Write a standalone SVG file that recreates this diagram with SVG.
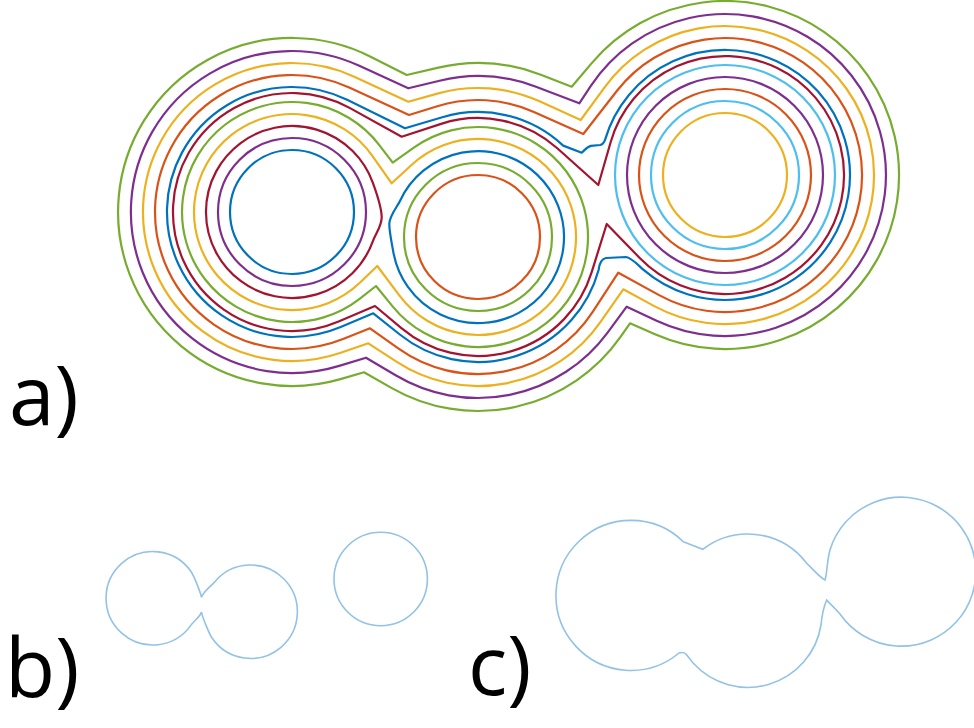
<svg xmlns="http://www.w3.org/2000/svg" width="974" height="728" viewBox="0 0 974 728">
<style>
.c{fill:none;stroke-width:2.2;stroke-linejoin:round}
.bl{stroke:#0072BD}.or{stroke:#D95319}.ye{stroke:#EDB120}.pu{stroke:#7E2F8E}
.gr{stroke:#77AC30}.lb{stroke:#4DBEEE}.dr{stroke:#A2142F}
.thin{fill:none;stroke:#92C2E6;stroke-width:1.6}
.lbl{font-family:"Open Sans","Noto Sans",sans-serif;font-size:82px;fill:#000}
</style>
<rect width="974" height="728" fill="#fff"/>
<g id="panel-a">
<g id="left-rings">
<circle class="c bl" cx="292" cy="212" r="62"/>
<circle class="c pu" cx="292" cy="212" r="74"/>
<path class="c dr" d="M372.8,241.4 A86,86 0 1 1 372.8,182.6 C375.5,190.1 381.5,206 381.7,217 C381.9,226 375.5,233.9 372.8,241.4 Z"/>
</g>
<g id="middle-rings">
<circle class="c or" cx="478" cy="237" r="62"/>
<circle class="c gr" cx="478" cy="237" r="74"/>
<path class="c bl" d="M400.1,200.7 A86,86 0 1 1 393.3,251.9 C392.3,246 389.3,232 389.3,224 C389.3,216 397.6,206.1 400.1,200.7 Z"/>
</g>
<g id="right-rings">
<circle class="c ye" cx="725" cy="175" r="62"/>
<circle class="c lb" cx="725" cy="175" r="74"/>
<circle class="c or" cx="725" cy="175" r="86"/>
<circle class="c pu" cx="725" cy="175" r="98"/>
<circle class="c lb" cx="725" cy="175" r="110"/>
</g>
<g id="merged-contours">
<path class="c ye" d="M391.7,183.3 L411.5,165 A98,98 0 1 1 399.5,295.6 L377.3,266 L359.8,282.8 A98,98 0 1 1 372,155.4 Z"/>
<path class="c gr" d="M392.7,162.7 L414.2,147.4 A110,110 0 1 1 392.8,306.6 L376,286 L359.6,298.8 A110,110 0 1 1 379.5,145.3 Z"/>
<path class="c dr" d="M401.7,136.7 L441.1,123.9 A119,119 0 0 1 557.3,148.3 L598.3,185 L610.7,142 A119,119 0 1 1 639.7,258 L606.7,224 L591.6,272.4 A119,119 0 0 1 401.7,328.3 L375,306 L338.6,321.5 A119,119 0 1 1 349.6,107.9 Z"/>
<path class="c bl" d="M405,128.3 L442.3,117.2 A125,125 0 0 1 563.2,145.6 L581.7,152.7 C585,150 587,146.5 591,145.8 L600,145 Q603.5,144.3 605,139.9 A125,125 0 1 1 643.3,269.6 C636,263 631,257.5 626,257 L606,258 Q600,259 598.6,270 A125,125 0 0 1 399.8,334.5 L373.3,313.3 L340.7,327.1 A125,125 0 1 1 347.1,99.8 Z"/>
<path class="c or" d="M409,115 L437.3,106.2 A137,137 0 0 1 533.9,111.9 L583.3,134 L617,90.8 A137,137 0 1 1 659.1,295.1 L618.3,272.7 L592.7,311.9 A137,137 0 0 1 398.6,348.7 L370,328.3 L343.1,339.1 A137,137 0 1 1 349.2,87.5 Z"/>
<path class="c ye" d="M408.3,101.7 L438.3,93.4 A149,149 0 0 1 539.6,101.3 L580.7,120 L604.6,87.3 A149,149 0 1 1 653.8,305.9 L623.3,289.3 L600,322.6 A149,149 0 0 1 396.4,361.7 L368.3,343.3 L340.7,352.8 A149,149 0 1 1 354.8,76.9 Z"/>
<path class="c pu" d="M408.3,88.3 L439.6,80.7 A161,161 0 0 1 535.3,86.5 L579.3,103.3 L591,85.7 A161,161 0 1 1 656.6,320.8 L626.7,306.7 L607.4,332.8 A161,161 0 0 1 395.6,375.3 L366,357.7 L339.2,365.9 A161,161 0 1 1 359.3,65.8 Z"/>
<path class="c gr" d="M406.7,75 L438.4,67.6 A174,174 0 0 1 540.8,74.7 L571.7,86.7 L592.4,62.4 A174,174 0 1 1 655,334.3 L630,323.3 L620.5,336.9 A174,174 0 0 1 391.8,388.1 L364,372.3 L340.5,379.1 A174,174 0 1 1 370.6,56.7 Z"/>
</g>
<text class="lbl" x="9" y="425">a)</text>
</g>
<g id="panel-b">
<path class="thin" d="M201.5,597.5 C202.2,592.5 211.7,585.5 214.9,581.7 A46.7,46.7 0 1 1 212.4,638.5 C209.5,634.4 202.2,617 201.5,612 C200.8,616 193.9,621 191,625.1 A46.7,46.7 0 1 1 191,571.5 C193.9,575.6 200.8,593 201.5,597.5 Z"/>
<circle class="thin" cx="380.7" cy="579" r="46.7"/>
<text class="lbl" x="5" y="697">b)</text>
</g>
<g id="panel-c">
<path class="thin" d="M683.3,541.7 L702.7,549.3 A74,74 0 0 1 806.7,563.3 C812,568 818,576 825,580 C827,575 827,560 830,550 A74.5,74.5 0 1 1 840,614 C834,607 829,603 826.7,600 C824,606 822,615 821,625 A74,74 0 0 1 693.3,663.3 L686,654 Q683,651.5 679,653 A75,75 0 1 1 683.3,541.7 Z"/>
<text class="lbl" x="468" y="695">c)</text>
</g>
</svg>
